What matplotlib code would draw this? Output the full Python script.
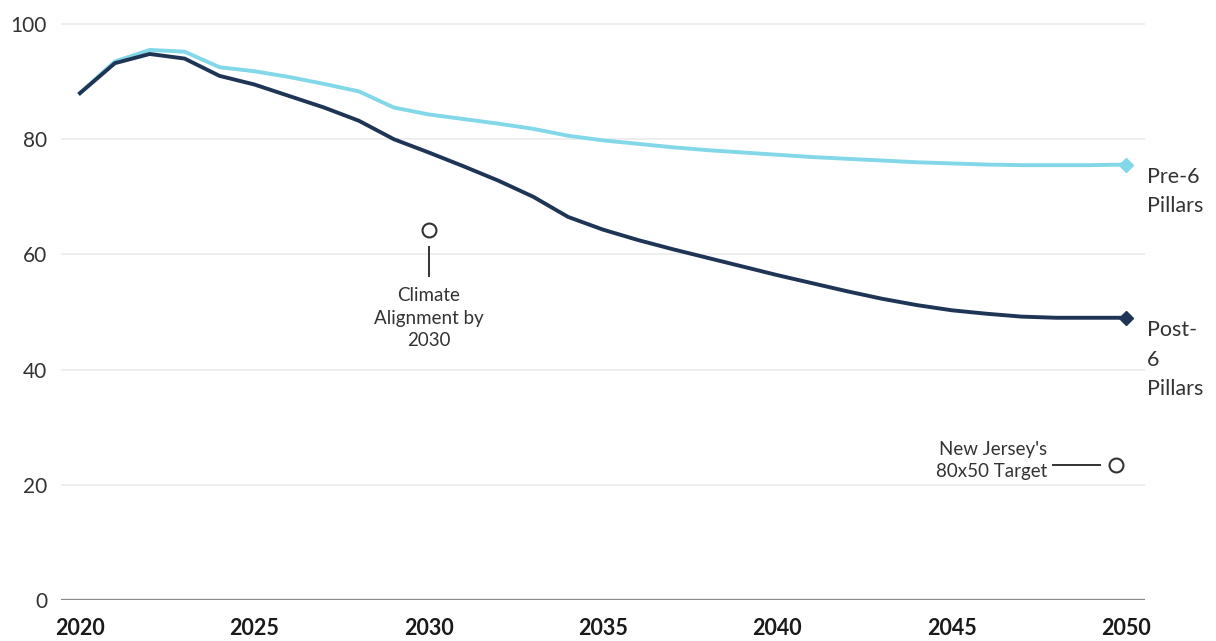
import matplotlib
matplotlib.use("Agg")
import matplotlib.pyplot as plt

years = list(range(2020, 2051))
pre_6_pillars = [88.0, 93.5, 95.5, 95.2, 92.5, 91.8, 90.8, 89.6, 88.3, 85.5,
                 84.3, 83.5, 82.7, 81.8, 80.6, 79.8, 79.2, 78.6, 78.1, 77.7,
                 77.3, 76.9, 76.6, 76.3, 76.0, 75.8, 75.6, 75.5, 75.5, 75.5, 75.6]
post_6_pillars = [88.0, 93.2, 94.8, 94.0, 91.0, 89.5, 87.5, 85.5, 83.2, 80.0,
                  77.7, 75.3, 72.8, 70.0, 66.5, 64.3, 62.5, 60.9, 59.4, 57.9,
                  56.4, 55.0, 53.6, 52.3, 51.2, 50.3, 49.7, 49.2, 49.0, 49.0, 49.0]
xticks = [2020, 2025, 2030, 2035, 2040, 2045, 2050]
yticks = [0, 20, 40, 60, 80, 100]
climate_point = (2030, 64.3)
nj_target = (2049.7, 23.5)

plt.rcParams['font.family'] = ['Lato', 'DejaVu Sans']

W, H = 1216, 641
fig = plt.figure(figsize=(W / 100, H / 100), dpi=100)
left, right = 61, 1145
bottom, top = 600, 12.5
ax = fig.add_axes([left / W, (H - bottom) / H, (right - left) / W, (bottom - top) / H])

xmin = 2020 - (80 - 61) / 34.87
xmax = 2020 + (1145 - 80) / 34.87
ax.set_xlim(xmin, xmax)
ax.set_ylim(0, 102)

light = '#82d8e8'
dark = '#1e3555'
txt = '#333333'

ax.plot(years, pre_6_pillars, color=light, lw=2.8, zorder=3, clip_on=False)
ax.plot(years, post_6_pillars, color=dark, lw=2.8, zorder=4, clip_on=False)
ax.plot([years[-1]], [pre_6_pillars[-1]], marker='D', ms=7.5, color=light, zorder=5, clip_on=False)
ax.plot([years[-1]], [post_6_pillars[-1]], marker='D', ms=7.5, color=dark, zorder=5, clip_on=False)

# gridlines
for y in yticks[1:]:
    ax.axhline(y, color='#ebebeb', lw=1.2, zorder=1)
ax.axhline(0, color='#8a8a8a', lw=2.4, zorder=2)

for s in ax.spines.values():
    s.set_visible(False)
ax.set_xticks(xticks)
ax.set_xticklabels([str(x) for x in xticks], fontweight='bold', fontsize=15.5, color='#1a1a1a')
ax.set_yticks(yticks)
ax.set_yticklabels([str(y) for y in yticks], fontsize=15, color=txt)
ax.tick_params(axis='both', length=0)
ax.tick_params(axis='x', pad=13)
ax.tick_params(axis='y', pad=10)

# series labels
ax.text(xmax + 0.05, pre_6_pillars[-1] - 0.4, 'Pre-6\nPillars', fontsize=15.5, color=txt,
        va='top', ha='left', linespacing=1.55, clip_on=False)
ax.text(xmax + 0.05, post_6_pillars[-1] - 0.4, 'Post-\n6\nPillars', fontsize=15.5, color=txt,
        va='top', ha='left', linespacing=1.6, clip_on=False)

# climate alignment annotation
ax.plot([climate_point[0]], [climate_point[1]], marker='o', ms=10, mfc='white', mec=txt, mew=1.5, zorder=6)
ax.plot([climate_point[0], climate_point[0]], [climate_point[1] - 3.0, climate_point[1] - 8.0], color=txt, lw=1.4)
ax.text(climate_point[0], climate_point[1] - 10.0, 'Climate\nAlignment by\n2030', fontsize=13.5, color=txt,
        ha='center', va='top', linespacing=1.38)

# NJ target annotation
ax.plot([nj_target[0]], [nj_target[1]], marker='o', ms=10, mfc='white', mec=txt, mew=1.5, zorder=6)
ax.plot([nj_target[0] - 1.8, nj_target[0] - 0.45], [nj_target[1], nj_target[1]], color=txt, lw=1.4)
ax.text(nj_target[0] - 1.97, nj_target[1] + 0.7, "New Jersey's\n80x50 Target", fontsize=13.5, color=txt,
        ha='right', va='center', linespacing=1.38)

fig.savefig('out.png', dpi=100, facecolor='white')
